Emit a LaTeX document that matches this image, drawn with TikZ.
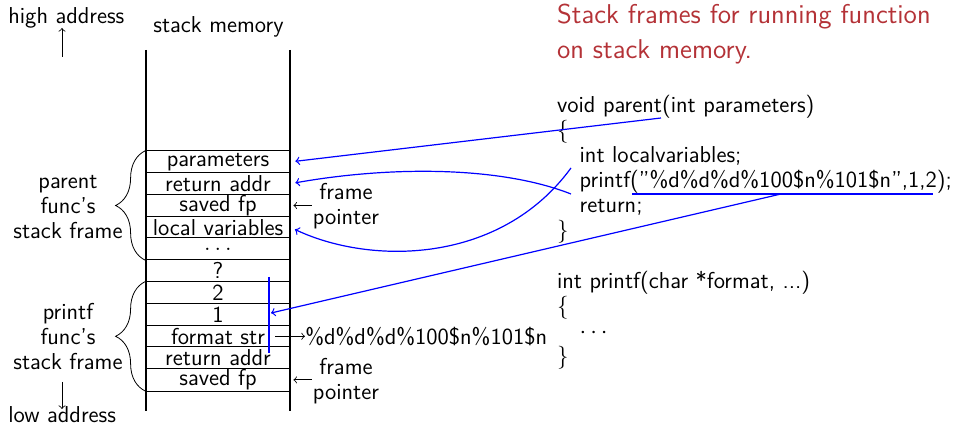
\documentclass[tikz,border=0pt]{standalone}
\usetikzlibrary{decorations.pathreplacing}
\definecolor{titlered}{RGB}{180,50,55}
\begin{document}
\begin{tikzpicture}[x=0.5pt,y=-0.5pt,
  txt/.style={font=\sffamily\fontsize{11.5}{12.5}\selectfont, inner sep=0pt},
  cell/.style={txt, minimum width=72pt, minimum height=10.9pt},
  lbl/.style={txt, align=center},
  codeline/.style={txt, anchor=base west},
  ttl/.style={font=\sffamily\fontsize{13.6}{17.5}\selectfont, inner sep=0pt, anchor=base west, text=titlered},
  blueline/.style={draw=blue, semithick},
  bluearrow/.style={blueline, ->},
  brc/.style={decorate, decoration={brace, amplitude=15pt}},
  blackarrow/.style={->}
]
\useasboundingbox (0,0) rectangle (954,426);

% header
\node[codeline] (hi) at (8,24) {high address};
\node[codeline] (sm) at (153,33) {stack memory};
\coordinate (hiA) at (62,57);
\draw[blackarrow] (hiA) -- (hiA |- 0,28);

% stack columns
\coordinate (lt) at (146,50);
\coordinate (lb) at (146,411);
\coordinate (rt) at (290,50);
\coordinate (rb) at (290,411);
\draw[semithick] (lt) -- (lb);
\draw[semithick] (rt) -- (rb);

% cells
\node[cell] (c0) at (218,161.9) {parameters};
\node[cell] (c1) at (218,183.7) {return addr};
\node[cell] (c2) at (218,205.5) {saved fp};
\node[cell] (c3) at (218,227.3) {local variables};
\node[cell] (c4) at (218,249.1) {$\ldots$};
\node[cell] (c5) at (218,270.9) {?};
\node[cell] (c6) at (218,292.7) {2};
\node[cell] (c7) at (218,314.5) {1};
\node[cell] (c8) at (218,336.3) {format str};
\node[cell] (c9) at (218,358.1) {return addr};
\node[cell] (c10) at (218,379.9) {saved fp};
\foreach \i in {0,...,10} {
  \draw (c\i.north west) -- (c\i.north east);
}
\draw (c10.south west) -- (c10.south east);

% braces and labels
\draw[brc] (c4.south west) -- (c0.north west);
\draw[brc] (c10.south west) -- (c6.north west);
\node[lbl] (pl) at (68,207) {parent\\func's\\stack frame};
\node[lbl] (ql) at (68,337) {printf\\func's\\stack frame};

\coordinate (loA) at (62,382);
\draw[blackarrow] (loA) -- (loA |- 0,409);
\node[codeline] (lo) at (8,423) {low address};

% frame pointers
\node[lbl] (fp1) at (346,206) {frame\\pointer};
\node[lbl] (fp2) at (346,381) {frame\\pointer};
\draw[blackarrow, shorten >=1.5pt, shorten <=0.5pt] (fp1.west |- c2.center) -- (c2.east);
\draw[blackarrow, shorten >=1.5pt, shorten <=0.5pt] (fp2.west |- c10.center) -- (c10.east);

% format string
\node[codeline] (fmt) at (305,344.3) {\%d\%d\%d\%100\$n\%101\$n};
\draw[blackarrow] ([xshift=-7.5pt]c8.east) -- (c8.center -| fmt.west);

% title
\node[ttl] (t1) at (556.7,23.3) {Stack frames for running function};
\node[ttl] (t2) at (556.7,58.3) {on stack memory.};

% parent code
\node[codeline] (p1) at (556.7,113) {void parent(int parameters)};
\node[codeline] (p2) at (556.7,138) {\{};
\node[codeline] (p3) at (579.3,163) {int localvariables;};
\node[codeline] (p4) at (579.3,188) {printf(”\%d\%d\%d\%100\$n\%101\$n”,1,2);};
\node[codeline] (p5) at (579.3,213) {return;};
\node[codeline] (p6) at (556.7,238) {\}};

% printf code
\node[codeline] (q1) at (556.7,289) {int printf(char *format, ...)};
\node[codeline] (q2) at (556.7,314) {\{};
\node[codeline] (q3) at (579.3,339) {$\cdots$};
\node[codeline] (q4) at (556.7,364) {\}};

% blue connectors
\coordinate (m1) at (661,118);
\coordinate (m2) at (571,194);
\coordinate (m3) at (571,168);
\coordinate (u1) at (632,194);
\coordinate (u2) at (933,194);
\coordinate (u3) at (781,194);
\coordinate (vt) at (269,277);
\coordinate (vb) at (269,353);
\coordinate (va) at (271,313);

\draw[bluearrow, shorten >=2.5pt] (m1) -- (c0.east);
\draw[bluearrow, shorten >=2.5pt] (m2) .. controls (500,166) and (390,166) .. (c1.east);
\draw[bluearrow, shorten >=2.5pt] (m3) .. controls (500,265) and (370,265) .. (c3.east);
\draw[blueline] (u1) -- (u2);
\draw[blueline] (vt) -- (vb);
\draw[bluearrow] (u3) -- (va);
\end{tikzpicture}
\end{document}
